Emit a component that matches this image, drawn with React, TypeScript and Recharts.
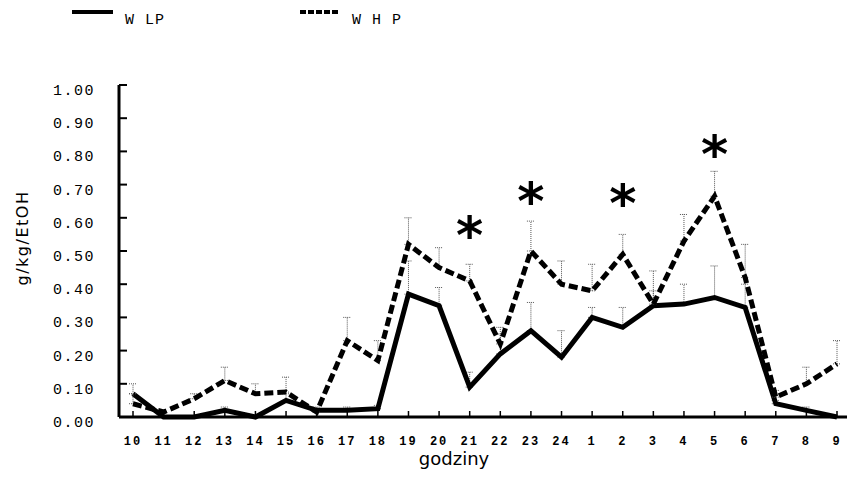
import { LineChart, Line, XAxis, YAxis, ErrorBar, Label } from 'recharts';

// godziny (hours of the day, starting at 10:00)
const hours = ['10', '11', '12', '13', '14', '15', '16', '17', '18', '19', '20', '21', '22', '23', '24', '1', '2', '3', '4', '5', '6', '7', '8', '9'];
const wlp = [0.07, 0.0, 0.0, 0.02, 0.0, 0.05, 0.02, 0.02, 0.025, 0.37, 0.335, 0.09, 0.19, 0.26, 0.18, 0.3, 0.27, 0.335, 0.34, 0.36, 0.33, 0.04, 0.02, 0.0];
const whp = [0.04, 0.015, 0.055, 0.11, 0.07, 0.075, 0.015, 0.23, 0.17, 0.52, 0.45, 0.41, 0.22, 0.5, 0.4, 0.38, 0.49, 0.34, 0.53, 0.665, 0.42, 0.06, 0.1, 0.16];
const wlpErr = [0.03, 0, 0, 0.01, 0, 0.02, 0.01, 0.01, 0.01, 0.1, 0.055, 0.045, 0.06, 0.085, 0.08, 0.03, 0.06, 0.045, 0.06, 0.095, 0.07, 0.01, 0.01, 0];
const whpErr = [0.03, 0, 0.015, 0.04, 0.03, 0.045, 0, 0.07, 0.06, 0.08, 0.06, 0.05, 0.05, 0.09, 0.07, 0.08, 0.06, 0.1, 0.08, 0.075, 0.1, 0.02, 0.05, 0.07];
// significance marks (*) and where they sit
const stars = [null, null, null, null, null, null, null, null, null, null, null, 0.573, null, 0.675, null, null, 0.668, null, null, 0.816, null, null, null, null];
const yTicks = [0, 0.1, 0.2, 0.3, 0.4, 0.5, 0.6, 0.7, 0.8, 0.9, 1.0];
const seriesNames = ['W LP', 'W H P'];

const data = hours.map((h, i) => ({
    hour: h,
    wlp: wlp[i],
    whp: whp[i],
    wlpErr: [0, wlpErr[i]],
    whpErr: [0, whpErr[i]],
    star: stars[i],
}));

const mono = '"Liberation Mono", "DejaVu Sans Mono", monospace';

const YTick = (props: any) => {
    const { x, y, payload } = props;
    return (
        <g>
            <line x1={x + 24} x2={x + 32} y1={y} y2={y} stroke="#000" strokeWidth={2} />
            <text x={x} y={y + 10} textAnchor="end" fontFamily={mono} fontSize={15} letterSpacing={1.5} fill="#000">
                {Number(payload.value).toFixed(2)}
            </text>
        </g>
    );
};

const XTick = (props: any) => {
    const { x, y, payload } = props;
    return (
        <g>
            <line x1={x} x2={x} y1={y} y2={y - 6} stroke="#000" strokeWidth={1.5} />
            <text x={x} y={y + 28} textAnchor="middle" fontFamily={mono} fontSize={12} letterSpacing={2} fontWeight="bold" fill="#000">
                {payload.value}
            </text>
        </g>
    );
};

const renderStar = (p: any) => {
    if (p.value == null || p.cx == null) return <g key={p.index} />;
    return (
        <text key={p.index} x={p.cx} y={p.cy} dy={26} textAnchor="middle" fontFamily="DejaVu Sans" fontWeight="bold" fontSize={52} fill="#000">
            *
        </text>
    );
};

export default function App() {
    return (
        <div style={{ position: 'absolute', left: 0, top: 0, width: 847, height: 479, background: '#fff' }}>
            <svg width={847} height={40} style={{ position: 'absolute', left: 0, top: 0 }}>
                <line x1={72} x2={113} y1={12} y2={12} stroke="#000" strokeWidth={4} />
                <text x={125} y={24} fontFamily={mono} fontSize={15} letterSpacing={1} fill="#000">{seriesNames[0]}</text>
                <line x1={300} x2={340} y1={12} y2={12} stroke="#000" strokeWidth={4} strokeDasharray="6 2" />
                <text x={352} y={24} fontFamily={mono} fontSize={15} letterSpacing={1} fill="#000">{seriesNames[1]}</text>
            </svg>
            <LineChart width={847} height={479} data={data} margin={{ top: 85, right: 0, left: 0, bottom: 0 }}>
                <XAxis
                    dataKey="hour"
                    height={62}
                    padding={{ left: 14, right: 10 }}
                    axisLine={{ stroke: '#000', strokeWidth: 3 }}
                    tickLine={false}
                    tickSize={0}
                    tickMargin={0}
                    interval={0}
                    tick={<XTick />}
                >
                    <Label
                        content={({ viewBox }: any) => (
                            <text x={viewBox.x + viewBox.width / 2 - 29} y={viewBox.y + 48} textAnchor="middle" fontFamily="DejaVu Sans" fontSize={18} fill="#000">
                                godziny
                            </text>
                        )}
                    />
                </XAxis>
                <YAxis
                    width={119}
                    domain={[0, 1]}
                    ticks={yTicks}
                    axisLine={{ stroke: '#000', strokeWidth: 3 }}
                    tickLine={false}
                    tickSize={0}
                    tickMargin={24}
                    interval={0}
                    tick={<YTick />}
                >
                    <Label
                        content={({ viewBox }: any) => {
                            const cx = viewBox.x + 22;
                            const cy = viewBox.y + viewBox.height / 2 - 13;
                            return (
                                <text x={cx} y={cy} transform={`rotate(-90, ${cx}, ${cy})`} textAnchor="middle" dominantBaseline="central" fontFamily="DejaVu Sans" fontSize={16} letterSpacing={1.5} fill="#000">
                                    g/kg/EtOH
                                </text>
                            );
                        }}
                    />
                </YAxis>
                <Line dataKey="wlp" name={seriesNames[0]} stroke="#000" strokeWidth={5} dot={false} activeDot={false} isAnimationActive={false} type="linear">
                    <ErrorBar dataKey="wlpErr" direction="y" width={4} stroke="#555" strokeWidth={1} strokeDasharray="1 1" isAnimationActive={false} />
                </Line>
                <Line dataKey="whp" name={seriesNames[1]} stroke="#000" strokeWidth={5} strokeDasharray="9 4" dot={false} activeDot={false} isAnimationActive={false} type="linear">
                    <ErrorBar dataKey="whpErr" direction="y" width={4} stroke="#555" strokeWidth={1} strokeDasharray="1 1" isAnimationActive={false} />
                </Line>
                <Line dataKey="star" stroke="none" dot={renderStar} activeDot={false} isAnimationActive={false} legendType="none" />
            </LineChart>
        </div>
    );
}
